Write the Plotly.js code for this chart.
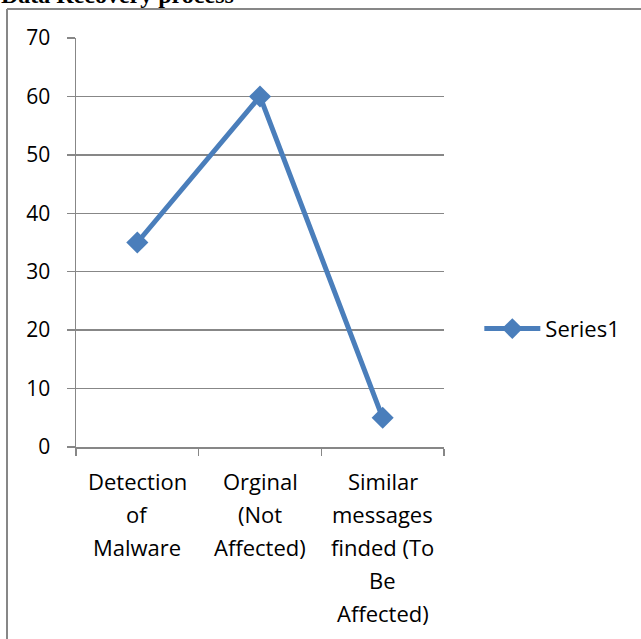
<!DOCTYPE html>
<html>
<head>
<meta charset="utf-8">
<script src="https://cdn.plot.ly/plotly-3.0.1.min.js"></script>
<style>html,body{margin:0;padding:0;background:#fff;}#chart{width:641px;height:639px;}</style>
</head>
<body>
<div id="chart"></div>
<script>
const chartTitle = "Data Recovery process";
const categories = ["Detection of Malware", "Orginal (Not Affected)", "Similar messages finded (To Be Affected)"];
const categoryLabelLines = [
  ["Detection", "of", "Malware"],
  ["Orginal", "(Not", "Affected)"],
  ["Similar", "messages", "finded (To", "Be", "Affected)"]
];
const seriesName = "Series1";
const seriesValues = [35, 60, 5];
const yTicks = [0, 10, 20, 30, 40, 50, 60, 70];

const blue = "#4a7ebb";
const grey = "#878787";
const font = "'Open Sans', 'Noto Sans', sans-serif";

const annotations = [];
categoryLabelLines.forEach((lines, i) => {
  lines.forEach((t, j) => {
    annotations.push({
      xref: "x", yref: "paper", x: categories[i], y: 0,
      yanchor: "middle", xanchor: "center", showarrow: false,
      yshift: -(34 + j * 33), text: t,
      font: {family: font, size: 22, color: "#000"}
    });
  });
});
annotations.push({
  xref: "paper", yref: "paper", x: -0.2065, y: 1.0709,
  xanchor: "left", yanchor: "bottom", showarrow: false, borderpad: 0,
  text: "<b>" + chartTitle + "</b>",
  font: {family: "'Liberation Serif', 'Times New Roman', serif", size: 24, color: "#000"}
});

const trace = {
  type: "scatter", mode: "lines+markers", name: seriesName,
  x: categories, y: seriesValues,
  line: {color: blue, width: 5},
  marker: {symbol: "diamond", size: 17, color: blue}
};

const layout = {
  width: 641, height: 639,
  margin: {l: 76, r: 197, t: 38, b: 192, pad: 0},
  paper_bgcolor: "#fff", plot_bgcolor: "#fff",
  showlegend: true,
  legend: {
    x: 1.096, xanchor: "left", y: 0.289, yanchor: "middle",
    font: {family: font, size: 22, color: "#000"},
    itemwidth: 56, bgcolor: "rgba(0,0,0,0)"
  },
  xaxis: {
    type: "category", range: [-0.5, 2.5],
    showline: true, linecolor: grey, linewidth: 1.5,
    ticks: "outside", ticklen: 7, tickcolor: grey, tickwidth: 1.5,
    tickson: "boundaries", showticklabels: false,
    showgrid: false, zeroline: false, fixedrange: true
  },
  yaxis: {
    range: [0, 70], tickvals: yTicks,
    showline: true, linecolor: grey, linewidth: 1.5,
    ticks: "outside", ticklen: 8, tickcolor: grey, tickwidth: 1.5,
    showgrid: true, gridcolor: grey, gridwidth: 1.5,
    zeroline: false, ticklabelstandoff: 12,
    tickfont: {family: font, size: 21, color: "#000"}, fixedrange: true
  },
  annotations: annotations,
  shapes: [
    {type: "line", xref: "paper", yref: "paper", x0: -0.1875, x1: -0.1875, y0: 1.0709, y1: -0.49, line: {color: grey, width: 2}},
    {type: "line", xref: "paper", yref: "paper", x0: -0.1875, x1: 1.55, y0: 1.0709, y1: 1.0709, line: {color: grey, width: 2}}
  ]
};

Plotly.newPlot("chart", [trace], layout, {displayModeBar: false, staticPlot: true});
</script>
</body>
</html>
